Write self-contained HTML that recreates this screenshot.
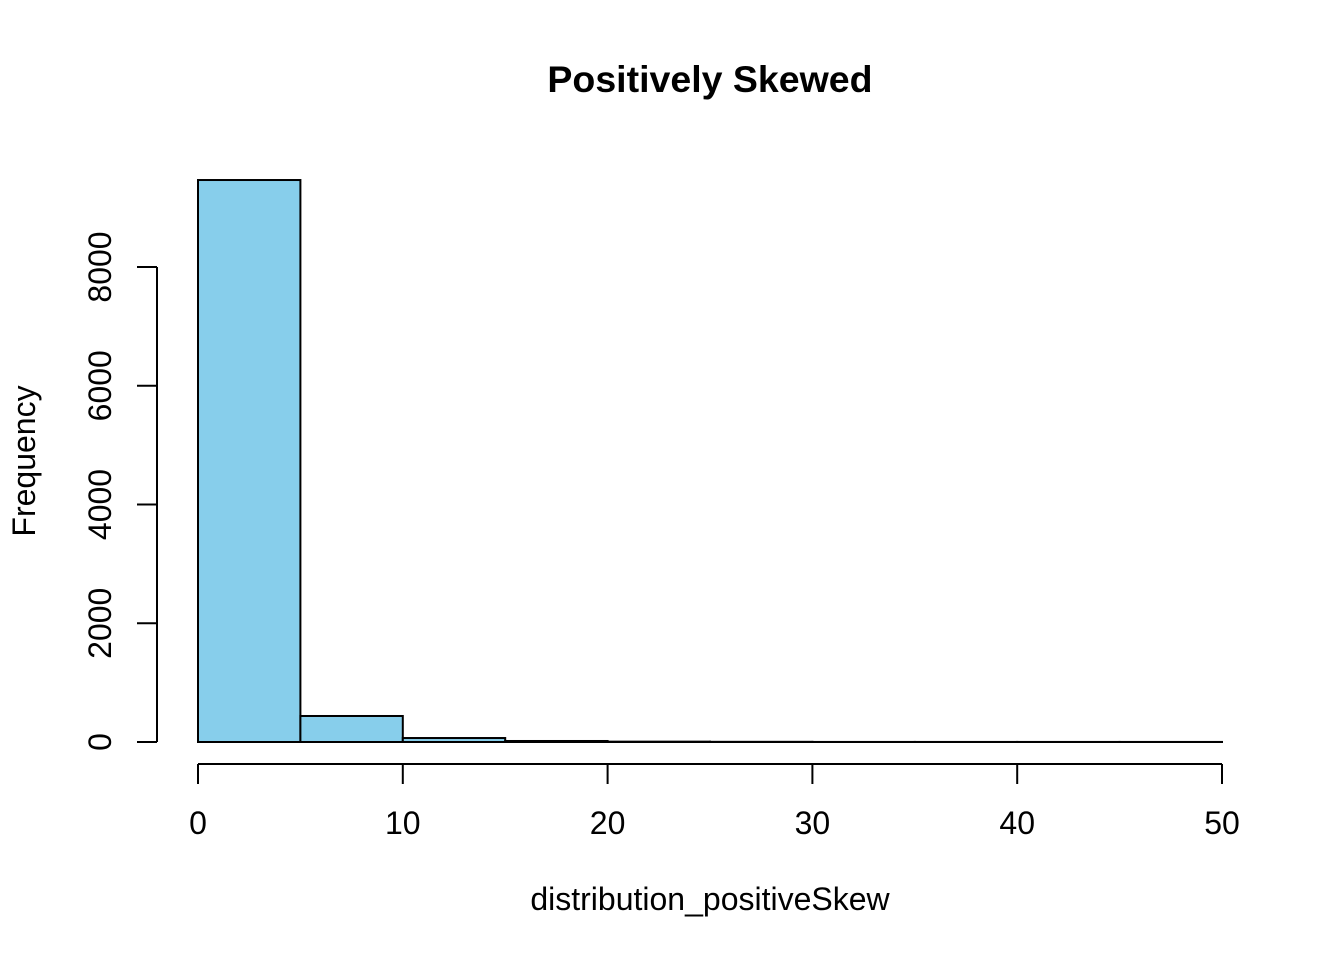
<!DOCTYPE html>
<html><head><meta charset="utf-8"><style>
body{margin:0;background:#fff;}
svg{display:block;font-family:"Liberation Sans",Arial,sans-serif;}
</style></head><body>
<svg id="chart" width="1344" height="960">
<text x="710" y="92" text-anchor="middle" font-size="37.5" font-weight="bold">Positively Skewed</text>
<text x="710" y="910" text-anchor="middle" font-size="32">distribution_positiveSkew</text>
<text transform="translate(35,461) rotate(-90)" text-anchor="middle" font-size="32">Frequency</text>
<g id="bars"></g><g id="xaxis"></g><g id="yaxis"></g>
</svg>
<script>
const binEdges=[0,5,10,15,20,25,30,35,40,45,50];
const counts=[9465,438,67,17,6,3,1,1,1,1];
const xTicks=[0,10,20,30,40,50];
const yTicks=[0,2000,4000,6000,8000];
const NS="http://www.w3.org/2000/svg";
const xs=v=>198+v*(1222-198)/50;
const ys=v=>742-v*(742-267)/8000;
function mk(tag,attrs,parent){const e=document.createElementNS(NS,tag);for(const k in attrs)e.setAttribute(k,attrs[k]);parent.appendChild(e);return e;}
const bars=document.getElementById('bars');
counts.forEach((c,i)=>{
 const r=mk('rect',{x:xs(binEdges[i]),y:ys(c),width:xs(binEdges[i+1])-xs(binEdges[i]),height:ys(0)-ys(c),fill:'#87ceeb',stroke:'#000','stroke-width':2},bars);
 
 
});
const xa=document.getElementById('xaxis');
const xl=mk('line',{x1:xs(xTicks[0]),x2:xs(xTicks[xTicks.length-1]),y1:764,y2:764,stroke:'#000','stroke-width':2},xa);


xTicks.forEach(t=>{
 mk('line',{x1:xs(t),x2:xs(t),y1:764,y2:784,stroke:'#000','stroke-width':2},xa);
 const tx=mk('text',{x:xs(t),y:834,'text-anchor':'middle','font-size':32},xa);
 tx.textContent=t;
 
 
});
const ya=document.getElementById('yaxis');
const yl=mk('line',{x1:157,x2:157,y1:ys(yTicks[0]),y2:ys(yTicks[yTicks.length-1]),stroke:'#000','stroke-width':2},ya);


yTicks.forEach(t=>{
 mk('line',{x1:137,x2:157,y1:ys(t),y2:ys(t),stroke:'#000','stroke-width':2},ya);
 const tx=mk('text',{transform:'translate(111,'+ys(t)+') rotate(-90)','text-anchor':'middle','font-size':32},ya);
 tx.textContent=t;
 
 
});
</script>
</body></html>
